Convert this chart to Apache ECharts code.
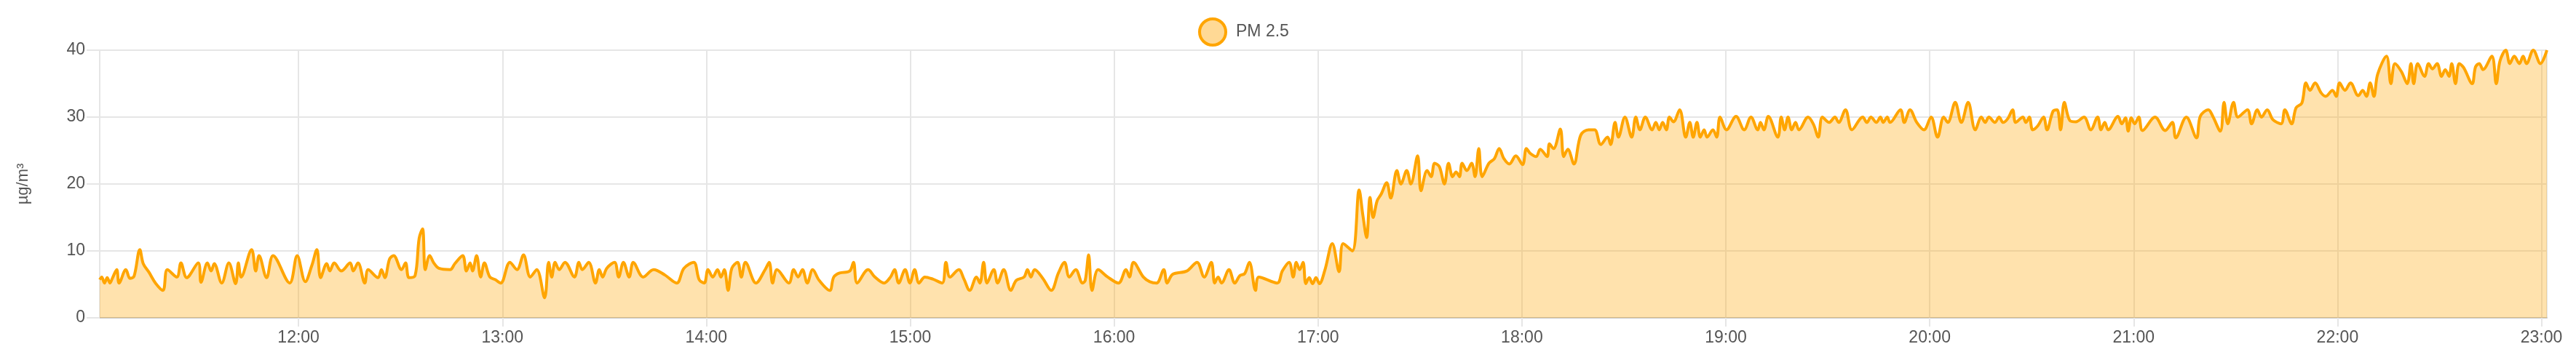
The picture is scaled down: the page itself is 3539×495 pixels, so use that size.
<!DOCTYPE html>
<html>
<head>
<meta charset="utf-8">
<script src="https://cdn.jsdelivr.net/npm/echarts@6/dist/echarts.min.js"></script>
<style>
  html, body { margin: 0; padding: 0; background: #fff; }
  #chart { width: 3539px; height: 495px; }
</style>
</head>
<body>
<div id="chart"></div>
<script>
// PM 2.5 readings, one array per clock hour: [minute of the hour, µg/m³]
const h11 = [[1.5,5.7],[2.1,6.1],[2.9,5.2],[3.7,6.0],[4.5,5.2],[5.3,6.0],[6.5,7.2],[7.2,5.2],[9.2,7.2],[10.4,5.9],[11.6,6.2],[13.3,10.2],[14.3,8.1],[16.0,6.8],[17.9,5.2],[20.1,4.1],[21.4,7.2],[24.2,6.1],[25.4,8.2],[27.1,6.0],[30.5,8.2],[31.3,5.3],[33.2,8.2],[34.3,7.0],[35.2,8.1],[37.4,5.2],[39.5,8.2],[41.5,5.1],[42.3,8.2],[43.1,6.1],[46.2,10.2],[47.4,7.0],[48.4,9.3],[50.6,6.0],[52.5,9.3],[57.4,5.2],[59.6,9.3]];
const h12 = [[2.0,5.4],[3.9,7.8],[5.4,10.2],[6.5,6.0],[8.3,8.1],[9.2,7.0],[10.5,8.2],[12.6,7.0],[15.2,8.2],[16.1,7.0],[17.5,8.2],[19.5,5.2],[20.5,7.2],[23.4,6.0],[24.4,7.2],[25.4,6.0],[26.8,8.8],[28.0,9.3],[30.3,7.2],[31.5,8.2],[32.5,6.0],[34.3,6.3],[35.5,11.9],[36.5,13.3],[37.3,7.2],[38.6,9.3],[39.8,8.2],[41.3,7.4],[44.6,7.2],[46.0,8.1],[48.3,9.3],[49.4,7.0],[50.5,8.2],[51.2,7.0],[52.4,9.3],[53.6,6.1],[54.7,8.2],[56.3,6.1],[57.9,5.7],[59.5,5.2]];
const h13 = [[2.2,8.3],[4.3,7.2],[6.2,9.4],[8.2,6.1],[10.1,7.2],[12.4,3.0],[13.6,8.3],[14.5,6.1],[15.5,8.3],[16.7,7.2],[18.4,8.3],[21.2,6.1],[22.5,8.3],[23.5,7.2],[25.4,8.3],[27.4,5.2],[28.5,7.2],[29.5,6.1],[30.7,7.4],[33.0,8.3],[34.2,6.1],[35.6,8.3],[37.3,6.1],[38.5,8.3],[41.4,6.1],[44.5,7.2],[47.8,6.4],[51.3,5.2],[53.4,7.4],[56.3,8.3],[57.9,5.7],[59.4,5.2]];
const h14 = [[0.5,7.2],[1.9,6.1],[3.3,7.2],[4.3,6.1],[5.3,7.2],[6.4,4.1],[7.5,7.4],[9.2,8.3],[10.3,6.1],[11.5,8.3],[14.6,5.2],[17.3,7.2],[18.5,8.3],[19.5,5.2],[20.8,7.2],[24.3,5.2],[25.7,7.2],[27.0,6.1],[28.3,7.2],[29.7,5.2],[31.3,7.2],[33.2,5.6],[36.3,4.1],[37.5,6.1],[39.2,6.7],[42.2,7.0],[43.3,8.3],[44.4,5.2],[47.6,7.2],[49.6,6.1],[52.3,5.2],[54.2,6.1],[55.4,7.2],[56.6,5.2],[58.5,7.2],[59.9,5.2]];
const h15 = [[1.3,7.2],[2.6,5.2],[4.3,6.1],[6.6,5.8],[9.4,5.2],[10.5,8.3],[11.7,6.1],[14.3,7.2],[15.8,5.8],[17.5,4.1],[19.5,6.1],[20.5,5.2],[21.6,8.3],[22.6,5.2],[24.6,7.2],[25.7,5.2],[27.5,7.2],[29.6,4.1],[31.2,5.6],[33.5,6.1],[34.5,7.2],[35.5,6.1],[36.6,7.2],[39.0,5.9],[41.5,4.1],[43.6,6.7],[45.4,8.3],[46.8,6.1],[48.7,7.2],[50.7,5.2],[51.5,5.6],[52.5,9.4],[53.5,4.1],[55.3,7.2],[58.1,6.1]];
const h16 = [[1.3,5.2],[3.5,7.2],[4.5,6.1],[5.7,8.3],[8.6,6.1],[10.5,5.4],[12.5,5.2],[14.6,7.2],[15.6,5.2],[17.2,6.5],[21.4,7.0],[24.4,8.3],[26.5,6.1],[28.6,8.3],[29.6,5.2],[30.6,6.1],[31.6,5.2],[33.8,7.2],[35.5,5.2],[37.0,6.3],[38.4,6.6],[39.8,8.3],[41.6,4.1],[42.6,6.1],[48.0,5.2],[49.5,7.0],[51.5,8.3],[52.7,6.1],[53.6,8.3],[54.6,7.2],[55.6,8.3],[56.4,5.1],[57.4,6.0],[58.4,5.1],[59.4,6.0]];
const h17 = [[0.4,5.1],[2.0,7.1],[4.2,11.1],[6.2,6.9],[7.4,11.1],[10.1,10.0],[12.1,19.1],[13.2,15.3],[14.3,12.0],[15.3,18.0],[16.2,15.0],[17.4,17.5],[18.6,18.5],[20.2,20.2],[21.4,17.9],[23.2,22.0],[24.4,20.0],[26.1,22.0],[27.3,20.0],[29.3,24.2],[30.3,19.0],[32.1,22.0],[33.3,21.1],[34.3,23.1],[35.7,22.6],[37.2,20.0],[38.4,23.1],[39.6,21.1],[40.6,21.8],[41.6,21.1],[42.4,23.1],[43.8,22.0],[45.2,23.1],[46.2,21.1],[47.3,25.3],[48.3,21.1],[50.3,23.1],[51.9,23.8],[53.3,25.3],[54.7,23.8],[56.3,23.0],[58.2,24.2]];
const h18 = [[0.2,22.9],[1.3,25.3],[2.4,24.6],[4.2,24.1],[5.4,25.2],[7.4,24.1],[8.1,26.0],[9.3,25.3],[11.3,28.2],[12.3,24.1],[13.5,25.2],[15.3,23.0],[17.3,27.3],[19.6,28.1],[21.4,28.1],[23.2,25.9],[25.2,27.0],[26.1,25.9],[27.4,29.2],[28.4,27.0],[30.3,30.0],[32.3,27.0],[33.5,30.0],[34.7,28.1],[36.3,30.0],[38.3,28.1],[39.4,29.2],[40.4,28.1],[41.4,29.2],[42.5,28.1],[43.4,30.0],[44.6,29.3],[46.4,31.1],[48.2,27.0],[49.4,29.2],[50.4,27.0],[51.5,29.2],[52.5,27.0],[53.6,28.1],[54.5,27.0],[56.2,28.1],[57.3,27.0],[58.3,30.0]];
const h19 = [[0.2,28.1],[3.0,30.1],[5.4,28.1],[7.4,30.0],[9.4,28.1],[10.2,29.2],[11.2,28.1],[12.5,30.1],[15.3,27.0],[16.3,30.0],[17.3,28.1],[18.3,30.0],[19.4,28.1],[20.5,29.2],[21.5,28.1],[24.2,30.0],[25.8,28.9],[27.2,27.0],[28.4,30.0],[30.4,29.2],[32.1,30.0],[33.2,29.2],[35.2,31.1],[37.1,28.1],[40.3,30.0],[41.5,29.2],[42.7,30.0],[44.3,29.2],[45.5,30.0],[46.3,29.2],[47.5,30.0],[48.3,29.2],[51.4,31.1],[52.5,29.2],[54.2,31.1],[56.2,29.2],[58.3,28.1]];
const h20 = [[0.4,30.0],[2.3,27.0],[4.1,30.0],[5.3,29.2],[7.5,32.2],[9.3,29.2],[11.3,32.2],[13.4,28.1],[15.2,30.0],[16.3,29.2],[17.4,30.0],[19.2,29.2],[20.4,30.0],[21.6,29.2],[23.0,29.8],[24.4,31.1],[25.3,29.2],[27.4,30.0],[28.3,29.2],[29.3,30.0],[30.3,28.1],[31.8,28.7],[33.5,30.0],[34.5,28.1],[36.3,30.9],[37.5,31.1],[38.5,28.1],[39.6,32.2],[41.2,29.5],[43.0,29.3],[45.4,30.0],[47.4,28.1],[49.4,30.0],[50.4,28.1],[51.5,29.2],[52.5,28.1],[55.4,30.1],[56.5,29.0],[57.6,29.9],[58.4,27.9],[59.3,29.9]];
const h21 = [[0.3,29.0],[1.5,30.0],[2.6,28.0],[6.3,30.0],[9.3,28.0],[11.4,29.2],[12.4,26.9],[15.5,30.0],[18.5,26.9],[19.6,30.1],[22.0,31.1],[23.3,30.1],[25.5,27.9],[26.6,32.2],[27.7,29.0],[29.4,32.2],[30.7,30.0],[33.5,31.1],[34.7,29.0],[36.4,31.1],[37.6,30.0],[39.3,31.1],[41.0,29.6],[43.4,29.0],[44.5,31.1],[46.5,29.0],[47.8,31.4],[49.5,32.1],[50.7,35.1],[51.9,34.0],[53.4,35.1],[55.2,33.6],[56.5,33.1],[58.5,34.0],[59.6,33.1]];
const h22 = [[0.6,35.1],[2.2,34.0],[3.8,35.1],[6.1,33.2],[7.4,34.0],[8.5,33.1],[9.6,35.1],[10.7,33.1],[11.8,36.4],[14.4,39.1],[15.7,35.0],[16.9,38.0],[18.8,36.8],[20.5,35.0],[21.6,38.0],[22.4,35.0],[23.6,38.0],[25.6,36.1],[26.8,38.0],[27.9,37.2],[29.3,38.0],[30.6,36.1],[31.7,37.1],[32.8,36.1],[33.6,38.0],[34.7,35.0],[35.8,38.0],[37.1,37.4],[39.6,35.0],[40.6,37.5],[41.7,38.0],[42.8,37.1],[45.4,39.1],[46.7,35.0],[47.8,38.4],[49.5,40.0],[50.7,38.0],[52.0,39.1],[53.5,38.0],[54.6,39.1],[55.6,38.0],[57.6,40.0],[59.7,38.0]];
const h23 = [[1.6,40.0]];

const hours = [11, 12, 13, 14, 15, 16, 17, 18, 19, 20, 21, 22, 23];
const hourData = [h11, h12, h13, h14, h15, h16, h17, h18, h19, h20, h21, h22, h23];
const yTicks = [0, 10, 20, 30, 40];

const day = [2024, 0, 15];
const data = [];
hours.forEach((h, i) => {
  hourData[i].forEach(([m, v]) => {
    const t = new Date(day[0], day[1], day[2], h, 0, 0).getTime() + m * 60000;
    data.push([t, v]);
  });
});

const pad = (n) => (n < 10 ? '0' + n : '' + n);
const font = 'Liberation Sans, Arial, Helvetica, sans-serif';
const gridColor = '#e6e6e6';

const chart = echarts.init(document.getElementById('chart'));
chart.setOption({
  animation: false,
  legend: {
    left: 1641,
    top: 19,
    itemWidth: 36,
    itemHeight: 36,
    textStyle: { fontSize: 23, color: '#555', fontFamily: font, padding: [0, 0, 0, 9] },
    data: [{
      name: 'PM 2.5',
      icon: 'circle',
      itemStyle: { color: '#FFD995', borderColor: '#FFA500', borderWidth: 4 }
    }]
  },
  grid: { left: 137, right: 40, top: 69, bottom: 58 },
  xAxis: {
    type: 'time',
    min: 'dataMin',
    max: 'dataMax',
    minInterval: 3600000,
    maxInterval: 3600000,
    axisLine: { lineStyle: { color: '#c8c8c8', width: 2 } },
    axisTick: { show: true, length: 12, lineStyle: { color: gridColor, width: 2 } },
    splitLine: { show: true, lineStyle: { color: gridColor, width: 2 } },
    axisLabel: {
      fontSize: 23,
      color: '#555',
      fontFamily: font,
      margin: 16,
      showMinLabel: false,
      showMaxLabel: false,
      formatter: (val) => {
        const d = new Date(val);
        return pad(d.getHours()) + ':' + pad(d.getMinutes());
      }
    }
  },
  yAxis: {
    type: 'value',
    min: yTicks[0],
    max: yTicks[yTicks.length - 1],
    interval: 10,
    name: 'µg/m³',
    nameLocation: 'middle',
    nameGap: 94,
    nameTextStyle: { fontSize: 22, color: '#555', fontFamily: font },
    axisLine: { show: true, lineStyle: { color: gridColor, width: 2 } },
    axisTick: { show: true, length: 18, lineStyle: { color: gridColor, width: 2 } },
    splitLine: { lineStyle: { color: gridColor, width: 2 } },
    axisLabel: { fontSize: 23, color: '#555', fontFamily: font, margin: 20 }
  },
  series: [{
    name: 'PM 2.5',
    type: 'line',
    data: data,
    smooth: 0.35,
    showSymbol: false,
    lineStyle: { color: '#FFA500', width: 4 },
    itemStyle: { color: '#FFA500' },
    areaStyle: { color: 'rgba(255, 165, 0, 0.46)' }
  }]
});
</script>
</body>
</html>
